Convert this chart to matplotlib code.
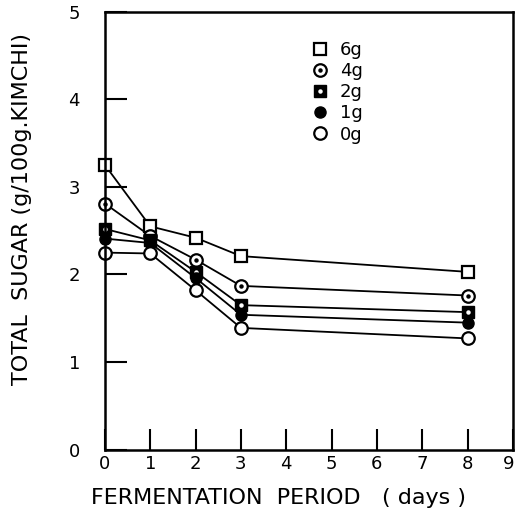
import matplotlib.pyplot as plt
from matplotlib.lines import Line2D
from matplotlib.legend_handler import HandlerTuple
from matplotlib.transforms import ScaledTranslation

# fermentation days and total sugar (g/100g kimchi) per salt level
days = [0, 1, 2, 3, 8]
sugar_6g = [3.25, 2.55, 2.42, 2.21, 2.03]
sugar_4g = [2.81, 2.44, 2.17, 1.87, 1.76]
sugar_2g = [2.52, 2.39, 2.03, 1.65, 1.57]
sugar_1g = [2.41, 2.36, 1.96, 1.54, 1.45]
sugar_0g = [2.25, 2.24, 1.82, 1.39, 1.27]
labels = ['6g', '4g', '2g', '1g', '0g']

plt.rcParams['font.family'] = 'DejaVu Sans'

fig = plt.figure(figsize=(5.17, 5.15), dpi=100)
ax = fig.add_axes([0.203, 0.127, 0.789, 0.85])

lw = 1.3
ms = 9
open_sq = dict(marker='s', ms=ms, mfc='white', mec='black', mew=1.6)
open_ci = dict(marker='o', ms=ms, mfc='white', mec='black', mew=1.6)
fill_sq = dict(marker='s', ms=ms - 1, mfc='black', mec='black')
fill_ci = dict(marker='o', ms=ms - 1, mfc='black', mec='black')
dot_k = dict(marker='o', ms=2.2, color='black')
dot_w = dict(marker='o', ms=2.2, color='white')

ax.plot(days, sugar_6g, color='black', lw=lw, clip_on=False, **open_sq)
ax.plot(days, sugar_4g, color='black', lw=lw, clip_on=False, **open_ci)
ax.plot(days, sugar_4g, ls='none', clip_on=False, **dot_k)
ax.plot(days, sugar_2g, color='black', lw=lw, clip_on=False, **fill_sq)
ax.plot(days, sugar_2g, ls='none', clip_on=False, **dot_w)
ax.plot(days, sugar_1g, color='black', lw=lw, clip_on=False, **fill_ci)
ax.plot(days, sugar_0g, color='black', lw=lw, clip_on=False, **open_ci)

# legend proxies: markers only, dotted ones overlaid
p6 = Line2D([], [], ls='none', **open_sq)
p4 = (Line2D([], [], ls='none', **open_ci), Line2D([], [], ls='none', **dot_k))
p2 = (Line2D([], [], ls='none', **fill_sq), Line2D([], [], ls='none', **dot_w))
p1 = Line2D([], [], ls='none', **fill_ci)
p0 = Line2D([], [], ls='none', **open_ci)
ax.legend([p6, p4, p2, p1, p0], labels,
          handler_map={tuple: HandlerTuple(ndivide=1)},
          frameon=False, loc='upper left', bbox_to_anchor=(0.465, 0.97),
          handlelength=1.0, handletextpad=0.6, labelspacing=0.17,
          fontsize=13)

ax.set_xlim(0, 9)
ax.set_ylim(0, 5)
ax.set_xticks(range(10))
ax.set_yticks(range(6))
ax.tick_params(axis='y', direction='in', length=16, width=1.5, pad=18,
               labelsize=13)
ax.tick_params(axis='x', direction='in', length=15, width=1.5, pad=4,
               labelsize=13)
for s in ax.spines.values():
    s.set_linewidth(1.8)

# nudge the last x tick label so it stays inside the figure
last = ax.get_xticklabels()[-1]
last.set_transform(last.get_transform() +
                   ScaledTranslation(-3 / 72, 0, fig.dpi_scale_trans))

ax.set_xlabel('FERMENTATION  PERIOD   ( days )', fontsize=16)
ax.set_ylabel('TOTAL  SUGAR (g/100g.KIMCHI)', fontsize=16)
ax.xaxis.set_label_coords(0.425, -0.088)
ax.yaxis.set_label_coords(-0.18, 0.55)

fig.savefig('out.png', dpi=100)
